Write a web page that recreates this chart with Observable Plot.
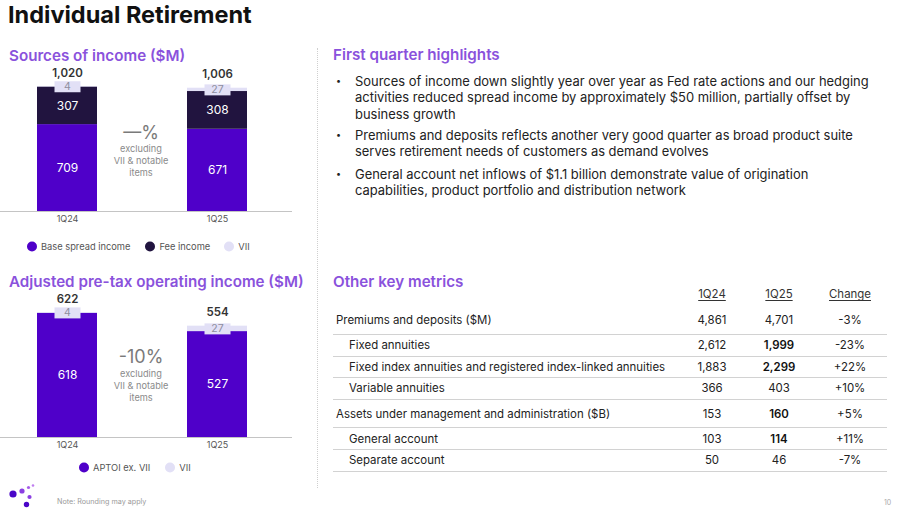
<!DOCTYPE html>
<html><head><meta charset="utf-8">
<script src="https://cdn.jsdelivr.net/npm/d3@7"></script>
<script src="https://cdn.jsdelivr.net/npm/@observablehq/plot@0.6"></script>
<style>
html,body{margin:0;padding:0;background:#fff;}
#slide{position:relative;width:900px;height:509px;overflow:hidden;font-family:Inter,Lato,"Noto Sans",sans-serif;color:#222;}
.t{position:absolute;white-space:nowrap;transform:translate(0,-50%);line-height:1.15;}
.tc{position:absolute;white-space:nowrap;transform:translate(-50%,-50%);line-height:1.15;text-align:center;}
.h2{font-size:15.2px;font-weight:600;color:#8a52dc;}
.chart{position:absolute;left:0;}
.ann-big{font-size:18px;color:#7a7a7a;}
.ann-small{font-size:9.2px;color:#8a8a8a;line-height:12px;}
.leg{position:absolute;display:flex;align-items:center;font-size:9.3px;color:#555;transform:translate(0,-50%);white-space:nowrap;}
.leg span.dot{display:inline-block;width:10px;height:10px;border-radius:50%;margin-right:4px;}
.leg span.item{display:flex;align-items:center;}
.bl{position:absolute;left:355px;font-size:12.95px;line-height:16.5px;color:#222;white-space:nowrap;}
.bu{position:absolute;left:336px;font-size:9px;color:#222;}
.row{position:absolute;font-size:11.45px;color:#222;transform:translate(0,-50%);white-space:nowrap;}
.num{position:absolute;font-size:11.45px;color:#222;transform:translate(-50%,-50%);white-space:nowrap;}
.hline{position:absolute;left:333px;width:554px;height:0;border-top:1.5px solid #d2d2d2;}
</style>
</head><body>
<div id="slide">
  <div class="t" style="left:8px;top:15px;font-size:23.5px;font-weight:700;color:#111;">Individual Retirement</div>
  <div class="t h2" style="left:9px;top:56px;">Sources of income ($M)</div>
  <div id="c1" class="chart" style="top:62px;"></div>
  <div class="tc ann-big" style="left:141px;top:133px;">—%</div>
  <div class="tc ann-small" style="left:141px;top:161px;">excluding<br>VII &amp; notable<br>items</div>
  <div id="leg1" class="leg" style="left:27px;top:246px;"></div>

  <div class="t h2" style="left:9px;top:282px;">Adjusted pre-tax operating income ($M)</div>
  <div id="c2" class="chart" style="top:288px;"></div>
  <div class="tc ann-big" style="left:141px;top:357px;">-10%</div>
  <div class="tc ann-small" style="left:141px;top:386px;">excluding<br>VII &amp; notable<br>items</div>
  <div id="leg2" class="leg" style="left:79px;top:467px;"></div>

  <svg style="position:absolute;left:0;top:480px;" width="45" height="29">
    <circle cx="13" cy="14" r="3.6" fill="#4a06c8"/>
    <circle cx="22" cy="11" r="2.6" fill="#8b3fe2"/>
    <circle cx="28.5" cy="7.5" r="1.6" fill="#a75de8"/>
    <circle cx="33" cy="5.5" r="1.3" fill="#c07ef0"/>
    <circle cx="29.5" cy="17" r="2.1" fill="#8b3fe2"/>
    <circle cx="26.5" cy="24.5" r="2.7" fill="#4a06c8"/>
  </svg>
  <div class="t" style="left:57px;top:502px;font-size:7.2px;color:#9a9a9a;">Note: Rounding may apply</div>
  <div class="t" style="left:884px;top:503px;font-size:7px;color:#aaa;">10</div>

  <div style="position:absolute;left:317px;top:48px;height:440px;border-left:1px dotted #cfcfcf;"></div>

  <div class="t h2" style="left:333px;top:55px;">First quarter highlights</div>
  <div id="bullets"></div>

  <div class="t h2" style="left:333px;top:282px;">Other key metrics</div>
  <div id="table"></div>
</div>
<script>
// ---- data ----
const quarters = ["1Q24", "1Q25"];
const incomeSeries = ["Base spread income", "Fee income", "VII"];
const baseSpreadIncome = [709, 671];
const feeIncome = [307, 308];
const viiIncome = [4, 27];
const incomeTotals = [1020, 1006];

const aptoiSeries = ["APTOI ex. VII", "VII"];
const aptoiExVII = [618, 527];
const aptoiVII = [4, 27];
const aptoiTotals = [622, 554];

const highlights = [
  ["Sources of income down slightly year over year as Fed rate actions and our hedging", "activities reduced spread income by approximately $50 million, partially offset by", "business growth"],
  ["Premiums and deposits reflects another very good quarter as broad product suite", "serves retirement needs of customers as demand evolves"],
  ["General account net inflows of $1.1 billion demonstrate value of origination", "capabilities, product portfolio and distribution network"]
];

const metricHeaders = ["1Q24", "1Q25", "Change"];
const metricLabels = ["Premiums and deposits ($M)", "Fixed annuities", "Fixed index annuities and registered index-linked annuities", "Variable annuities", "Assets under management and administration ($B)", "General account", "Separate account"];
const metricIndent = [false, true, true, true, false, true, true];
const metric1Q24 = ["4,861", "2,612", "1,883", "366", "153", "103", "50"];
const metric1Q25 = ["4,701", "1,999", "2,299", "403", "160", "114", "46"];
const metric1Q25Bold = [false, true, true, false, true, true, false];
const metricChange = ["-3%", "-23%", "+22%", "+10%", "+5%", "+11%", "-7%"];

// ---- colors ----
const PURPLE = "#4f00c9", DARK = "#21143f", LIGHT = "#e2e0f6";

const boxSymbol = {draw(ctx) { ctx.rect(-13, -5.5, 26, 11); }};
const fmt = d3.format(",");

function stackedChart(names, values, colors, totals) {
  const rows = [];
  quarters.forEach((q, i) => {
    let acc = 0;
    names.forEach((s, j) => {
      const v = values[j][i];
      rows.push({q, series: s, value: v, y1: acc, y2: acc + v});
      acc += v;
    });
  });
  const main = rows.filter(d => d.series !== "VII");
  const vii = rows.filter(d => d.series === "VII");
  const totalRows = quarters.map((q, i) => ({q, total: totals[i]}));
  return Plot.plot({
    width: 292, height: 165, marginTop: 24, marginBottom: 16, marginLeft: 0, marginRight: 0,
    x: {domain: quarters, range: [7, 277], paddingInner: 0.6, paddingOuter: 0.2, axis: null},
    y: {domain: [0, d3.max(totals)], axis: null},
    color: {domain: names, range: colors},
    style: {fontFamily: "Inter, Lato, sans-serif", background: "transparent", overflow: "visible"},
    marks: [
      Plot.barY(rows, {x: "q", y1: "y1", y2: "y2", fill: "series"}),
      Plot.ruleY([0], {stroke: "#c4c4c4", strokeWidth: 1.2}),
      Plot.text(main, {x: "q", y: d => (d.y1 + d.y2) / 2, text: d => fmt(d.value), fill: "white", fontSize: 12}),
      Plot.dot(vii, {x: "q", y: d => (d.y1 + d.y2) / 2, symbol: boxSymbol, r: 5, fill: LIGHT, stroke: "none"}),
      Plot.text(vii, {x: "q", y: d => (d.y1 + d.y2) / 2, text: d => fmt(d.value), fill: "#8e8e9e", fontSize: 10.5}),
      Plot.text(totalRows, {x: "q", y: "total", text: d => fmt(d.total), dy: -13.5, fontWeight: 600, fill: "#333", fontSize: 11.5}),
      Plot.axisX({tickSize: 0, tickPadding: 4, fontSize: 9, color: "#555", label: null})
    ]
  });
}

document.getElementById("c1").append(
  stackedChart(incomeSeries, [baseSpreadIncome, feeIncome, viiIncome], [PURPLE, DARK, LIGHT], incomeTotals));
document.getElementById("c2").append(
  stackedChart(aptoiSeries, [aptoiExVII, aptoiVII], [PURPLE, LIGHT], aptoiTotals));

function legend(el, names, colors, gaps) {
  el.innerHTML = names.map((n, i) =>
    `<span class="item" style="margin-right:${gaps[i]}px"><span class="dot" style="background:${colors[i]}"></span>${n}</span>`).join("");
}
legend(document.getElementById("leg1"), incomeSeries, [PURPLE, DARK, LIGHT], [15, 14, 0]);
legend(document.getElementById("leg2"), aptoiSeries, [PURPLE, LIGHT], [15, 0]);

// bullets
const bulletTops = [81, 135, 174];
document.getElementById("bullets").innerHTML = highlights.map((lines, i) =>
  `<div class="bu" style="top:${bulletTops[i] - 6}px">•</div>` +
  `<div class="bl" style="top:${bulletTops[i] - 8.25}px">${lines.join("<br>")}</div>`).join("");

// table
const rowY = [320, 345, 367, 388, 413.5, 438.5, 460];
const lineY = [334, 355.5, 377, 399, 427, 449, 471];
const colX = [712, 779, 850];
let html = metricHeaders.map((h, i) =>
  `<div class="num" style="left:${colX[i]}px;top:294px;text-decoration:underline;text-underline-offset:2px;color:#333">${h}</div>`).join("");
metricLabels.forEach((lab, i) => {
  html += `<div class="row" style="left:${metricIndent[i] ? 349 : 336}px;top:${rowY[i]}px">${lab}</div>`;
  html += `<div class="num" style="left:${colX[0]}px;top:${rowY[i]}px">${metric1Q24[i]}</div>`;
  html += `<div class="num" style="left:${colX[1]}px;top:${rowY[i]}px;${metric1Q25Bold[i] ? "font-weight:600;color:#111" : ""}">${metric1Q25[i]}</div>`;
  html += `<div class="num" style="left:${colX[2]}px;top:${rowY[i]}px">${metricChange[i]}</div>`;
  html += `<div class="hline" style="top:${lineY[i]}px"></div>`;
});
document.getElementById("table").innerHTML = html;
</script>
</body></html>
